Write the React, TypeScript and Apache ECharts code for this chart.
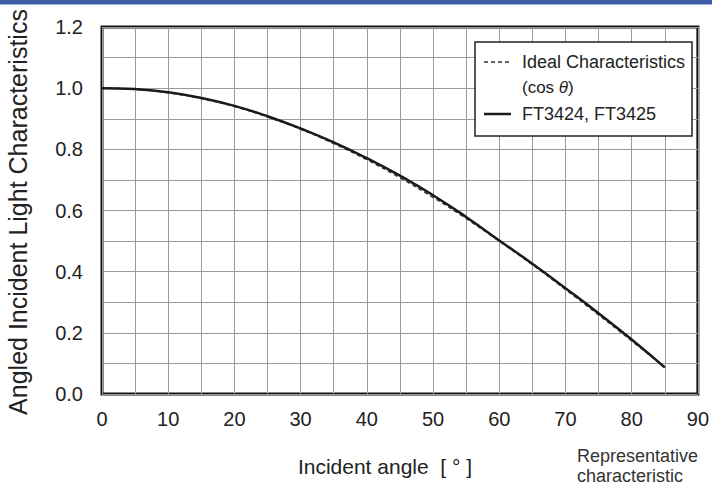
import React, { useEffect, useRef } from "react";
import * as echarts from "echarts";

const angles = [0, 5, 10, 15, 20, 25, 30, 35, 40, 45, 50, 55, 60, 65, 70, 75, 80, 85];
const idealValues = [1.0, 0.996, 0.985, 0.966, 0.94, 0.906, 0.866, 0.819, 0.766, 0.707, 0.643, 0.574, 0.5, 0.423, 0.342, 0.259, 0.174, 0.087];
const measuredValues = [1.0, 0.997, 0.987, 0.968, 0.942, 0.908, 0.868, 0.823, 0.771, 0.714, 0.65, 0.579, 0.502, 0.426, 0.346, 0.264, 0.178, 0.087];
const seriesNames = ["Ideal Characteristics", "FT3424, FT3425"];
const xTitle = "Incident angle  [ ° ]";
const yTitle = "Angled Incident Light Characteristics";
const noteLines = ["Representative", "characteristic"];

const SANS = "'Liberation Sans', Arial, sans-serif";

export default function App() {
  const ref = useRef<HTMLDivElement>(null);
  useEffect(() => {
    if (!ref.current) return;
    const chart = echarts.init(ref.current, undefined, { renderer: "svg" });
    const gridLine = { color: "#9a9a9a", width: 1 };
    chart.setOption({
      animation: false,
      backgroundColor: "#ffffff",
      grid: {
        left: 102,
        top: 27,
        width: 596,
        height: 367,
        show: true,
        borderColor: "#111",
        borderWidth: 3,
        backgroundColor: "transparent",
      },
      xAxis: {
        type: "value",
        min: 0,
        max: 90,
        interval: 10,
        axisLine: { show: false },
        axisTick: { show: false },
        minorTick: { show: false, splitNumber: 2 },
        splitLine: { show: true, lineStyle: gridLine },
        minorSplitLine: { show: true, lineStyle: gridLine },
        axisLabel: { fontSize: 20, fontFamily: SANS, color: "#222", margin: 15 },
      },
      yAxis: {
        type: "value",
        min: 0,
        max: 1.2,
        interval: 0.2,
        axisLine: { show: false },
        axisTick: { show: false },
        minorTick: { show: false, splitNumber: 2 },
        splitLine: { show: true, lineStyle: gridLine },
        minorSplitLine: { show: true, lineStyle: gridLine },
        axisLabel: {
          fontSize: 20,
          fontFamily: SANS,
          color: "#222",
          margin: 19,
          formatter: (v: number) => v.toFixed(1),
        },
      },
      series: [
        {
          name: seriesNames[1],
          type: "line",
          data: angles.map((a, i) => [a, measuredValues[i]]),
          showSymbol: false,
          smooth: true,
          lineStyle: { color: "#1a1a1a", width: 2.5, type: "solid" },
          z: 3,
        },
        {
          name: seriesNames[0],
          type: "line",
          data: angles.map((a, i) => [a, idealValues[i]]),
          showSymbol: false,
          smooth: true,
          lineStyle: { color: "#333", width: 1.5, type: [4, 3] },
          z: 2,
        },
      ],
      graphic: [
        { type: "rect", left: 0, top: 0, z: 100, shape: { width: 712, height: 4 }, style: { fill: "#3e5ca6" } },
        { type: "rect", left: 0, top: 4, z: 100, shape: { width: 712, height: 1 }, style: { fill: "#9db4dc" } },
        { type: "rect", z: 100, shape: { x: 475, y: 42, width: 217, height: 94 }, style: { fill: "#fff", stroke: "#222", lineWidth: 1.5 } },
        { type: "line", z: 101, shape: { x1: 484, y1: 62, x2: 511, y2: 62 }, style: { stroke: "#333", lineWidth: 1.5, lineDash: [4, 3] } },
        { type: "line", z: 101, shape: { x1: 484, y1: 114, x2: 511, y2: 114 }, style: { stroke: "#1a1a1a", lineWidth: 2.5 } },
        { type: "text", z: 101, x: 522, y: 62, style: { text: seriesNames[0], fontSize: 18, fontFamily: SANS, fill: "#222", verticalAlign: "middle" } },
        {
          type: "text",
          z: 101,
          x: 522,
          y: 87,
          style: {
            text: "(cos {i|θ})",
            fontSize: 17,
            fontFamily: SANS,
            fill: "#222",
            verticalAlign: "middle",
            rich: { i: { fontStyle: "italic", fontSize: 17, fontFamily: SANS, fill: "#222" } },
          },
        },
        { type: "text", z: 101, x: 522, y: 114, style: { text: seriesNames[1], fontSize: 18, fontFamily: SANS, fill: "#222", verticalAlign: "middle" } },
        {
          type: "text",
          z: 100,
          x: 18,
          y: 212,
          rotation: Math.PI / 2,
          style: { text: yTitle, fontSize: 25, fontFamily: SANS, fill: "#222", align: "center", verticalAlign: "middle" },
        },
        {
          type: "text",
          z: 100,
          x: 385,
          y: 466,
          style: { text: xTitle, fontSize: 21, fontFamily: SANS, fill: "#222", align: "center", verticalAlign: "middle" },
        },
        {
          type: "text",
          z: 100,
          x: 577,
          y: 447,
          style: { text: noteLines[0], fontSize: 18, fontFamily: SANS, fill: "#333", verticalAlign: "top" },
        },
        {
          type: "text",
          z: 100,
          x: 577,
          y: 467,
          style: { text: noteLines[1], fontSize: 18, fontFamily: SANS, fill: "#333", verticalAlign: "top" },
        },
      ],
    });
    return () => chart.dispose();
  }, []);
  return <div ref={ref} style={{ position: "fixed", left: 0, top: 0, width: 712, height: 486 }} />;
}
